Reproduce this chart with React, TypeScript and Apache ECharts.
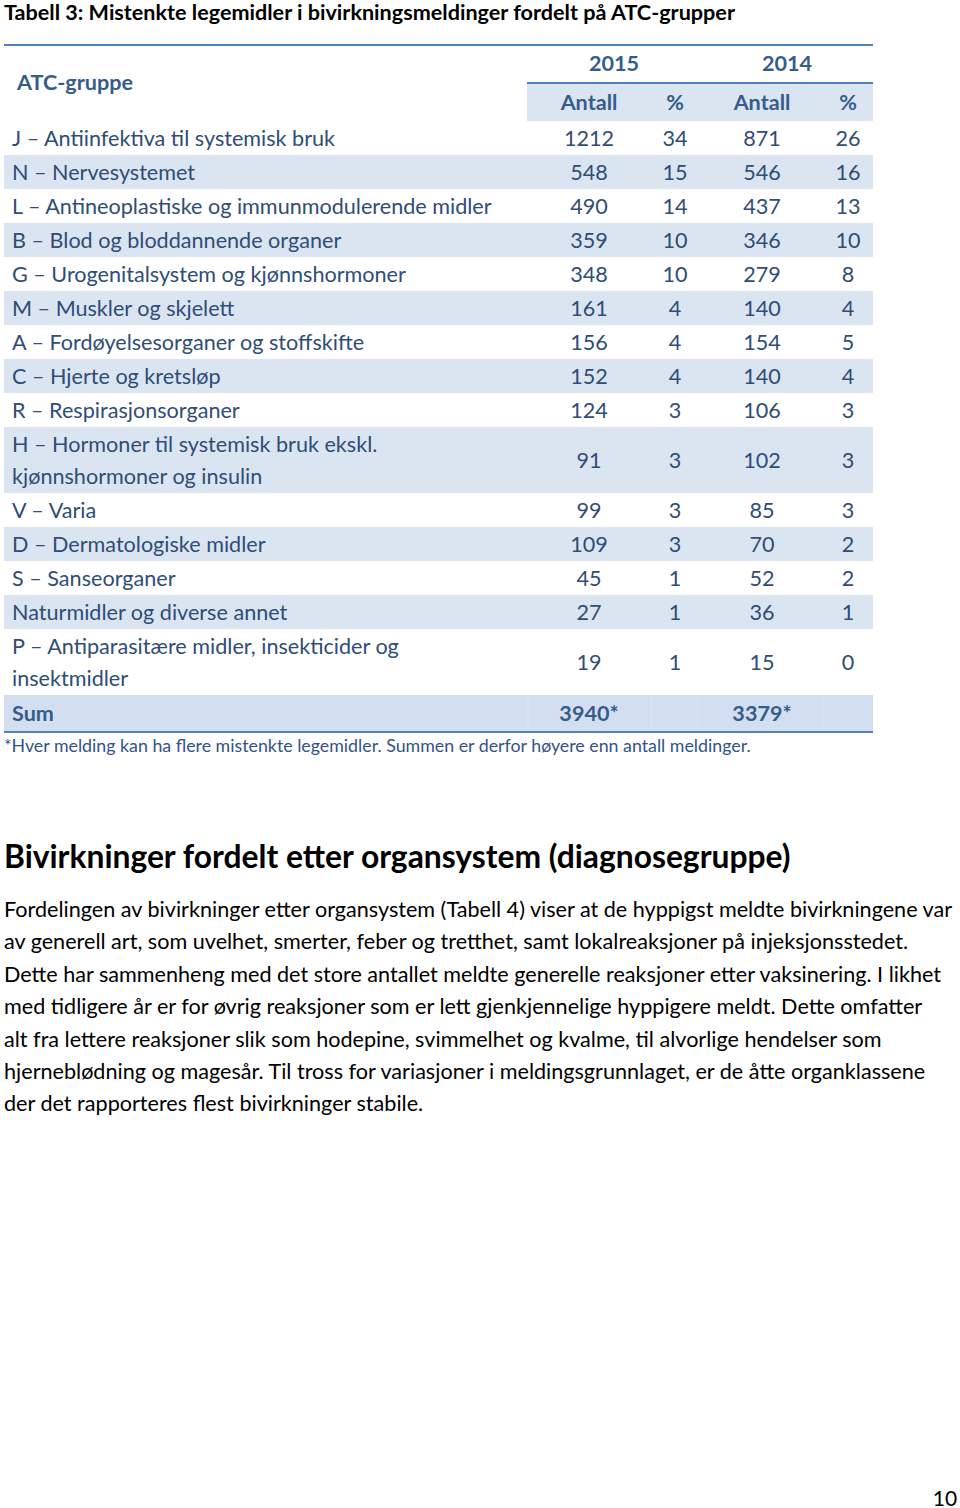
import React, { useEffect, useRef } from "react";
import * as echarts from "echarts";

const title = "Tabell 3: Mistenkte legemidler i bivirkningsmeldinger fordelt på ATC-grupper";
const groupHeader = "ATC-gruppe";
const years = ["2015", "2014"];
const subHeaders = ["Antall", "%", "Antall", "%"];
const categories = [
  "J – Antiinfektiva til systemisk bruk",
  "N – Nervesystemet",
  "L – Antineoplastiske og immunmodulerende midler",
  "B – Blod og bloddannende organer",
  "G – Urogenitalsystem og kjønnshormoner",
  "M – Muskler og skjelett",
  "A – Fordøyelsesorganer og stoffskifte",
  "C – Hjerte og kretsløp",
  "R – Respirasjonsorganer",
  "H – Hormoner til systemisk bruk ekskl.\nkjønnshormoner og insulin",
  "V – Varia",
  "D – Dermatologiske midler",
  "S – Sanseorganer",
  "Naturmidler og diverse annet",
  "P – Antiparasitære midler, insekticider og\ninsektmidler",
];
const antall2015 = [1212, 548, 490, 359, 348, 161, 156, 152, 124, 91, 99, 109, 45, 27, 19];
const pct2015 = [34, 15, 14, 10, 10, 4, 4, 4, 3, 3, 3, 3, 1, 1, 1];
const antall2014 = [871, 546, 437, 346, 279, 140, 154, 140, 106, 102, 85, 70, 52, 36, 15];
const pct2014 = [26, 16, 13, 10, 8, 4, 5, 4, 3, 3, 3, 2, 2, 1, 0];
const sumLabel = "Sum";
const sums = ["3940*", "3379*"];
const footnote =
  "*Hver melding kan ha flere mistenkte legemidler. Summen er derfor høyere enn antall meldinger.";
const heading = "Bivirkninger fordelt etter organsystem (diagnosegruppe)";
const paragraph = [
  "Fordelingen av bivirkninger etter organsystem (Tabell 4) viser at de hyppigst meldte bivirkningene var",
  "av generell art, som uvelhet, smerter, feber og tretthet, samt lokalreaksjoner på injeksjonsstedet.",
  "Dette har sammenheng med det store antallet meldte generelle reaksjoner etter vaksinering. I likhet",
  "med tidligere år er for øvrig reaksjoner som er lett gjenkjennelige hyppigere meldt. Dette omfatter",
  "alt fra lettere reaksjoner slik som hodepine, svimmelhet og kvalme, til alvorlige hendelser som",
  "hjerneblødning og magesår. Til tross for variasjoner i meldingsgrunnlaget, er de åtte organklassene",
  "der det rapporteres flest bivirkninger stabile.",
];
const pageNumber = "10";

const FONT = "Lato, 'Open Sans', sans-serif";
const TXT = "#2f4d76";
const HDR = "#365c8c";
const SHADE = "#dbe5f1";
const SUMSHADE = "#d3dff0";
const LINE = "#4f81bd";
const BASE = 21.6;

function buildGraphics() {
  const els: any[] = [];
  const L = 4;
  const R = 873;
  const colX = [589, 675, 762, 848];
  const yearX = [614, 787];
  const numLeft = 527;

  const txt = (x: number, y: number, text: string, o: any = {}) =>
    els.push({
      type: "text",
      x,
      y,
      silent: true,
      style: {
        text,
        fontFamily: FONT,
        fontSize: o.size ?? BASE,
        fontWeight: o.bold ? "bold" : "normal",
        fill: o.color ?? TXT,
        textAlign: o.align ?? "left",
        textVerticalAlign: "middle",
        lineHeight: o.lh ?? (text.includes("\n") ? 32 : Math.round((o.size ?? BASE) * 1.1)),
      },
      z: 10,
    });

  // title
  txt(L, 12, title, { bold: true, color: "#000", size: 21.6, lh: 20 });

  // header lines / fill
  els.push({ type: "rect", shape: { x: numLeft, y: 84, width: R - numLeft, height: 37 }, style: { fill: SHADE }, silent: true });
  els.push({ type: "line", shape: { x1: L, y1: 45, x2: R, y2: 45 }, style: { stroke: LINE, lineWidth: 2 }, silent: true });
  els.push({ type: "line", shape: { x1: numLeft, y1: 83, x2: R, y2: 83 }, style: { stroke: LINE, lineWidth: 2 }, silent: true });

  txt(17, 82, groupHeader, { bold: true, color: HDR });
  years.forEach((yv, i) => txt(yearX[i], 63, yv, { bold: true, color: HDR, align: "center" }));
  subHeaders.forEach((s, i) => txt(colX[i], 102, s, { bold: true, color: HDR, align: "center" }));

  // body rows
  let y = 121;
  categories.forEach((cat, i) => {
    const two = cat.includes("\n");
    const h = two ? 66 : 34;
    if (i % 2 === 1) {
      els.push({ type: "rect", shape: { x: L, y, width: R - L, height: h }, style: { fill: SHADE }, silent: true });
    }
    const cy = y + h / 2;
    txt(12, cy, cat);
    const vals = [antall2015[i], pct2015[i], antall2014[i], pct2014[i]];
    vals.forEach((v, j) => txt(colX[j], cy, String(v), { align: "center" }));
    y += h;
  });

  // sum row
  const sh = 36;
  els.push({ type: "rect", shape: { x: L, y, width: R - L, height: sh }, style: { fill: SUMSHADE }, silent: true });
  [528, 651, 698, 823].forEach((vx) =>
    els.push({ type: "line", shape: { x1: vx, y1: y, x2: vx, y2: y + sh }, style: { stroke: "#dae4f1", lineWidth: 1 }, silent: true })
  );
  txt(12, y + sh / 2, sumLabel, { bold: true, color: HDR });
  txt(colX[0], y + sh / 2, sums[0], { bold: true, color: HDR, align: "center" });
  txt(colX[2], y + sh / 2, sums[1], { bold: true, color: HDR, align: "center" });
  y += sh;
  els.push({ type: "line", shape: { x1: L, y1: y + 1, x2: R, y2: y + 1 }, style: { stroke: LINE, lineWidth: 2 }, silent: true });

  txt(L, 745, footnote, { size: 17.8, color: "#33528a" });

  txt(L, 856, heading, { bold: true, color: "#000", size: 31.8 });

  paragraph.forEach((line, i) => txt(L, 909 + i * 32.4, line, { color: "#000", size: 21.6 }));

  txt(945, 1497, pageNumber, { color: "#000", size: 21, align: "center", lh: 20 });

  return els;
}

export default function App() {
  const ref = useRef<HTMLDivElement>(null);
  useEffect(() => {
    if (!ref.current) return;
    const chart = echarts.init(ref.current, undefined, { renderer: "svg" });
    chart.setOption({
      animation: false,
      backgroundColor: "#ffffff",
      graphic: { elements: buildGraphics() },
    });
    return () => chart.dispose();
  }, []);
  return (
    <div
      ref={ref}
      style={{ position: "absolute", left: 0, top: 0, width: 960, height: 1508 }}
    />
  );
}
